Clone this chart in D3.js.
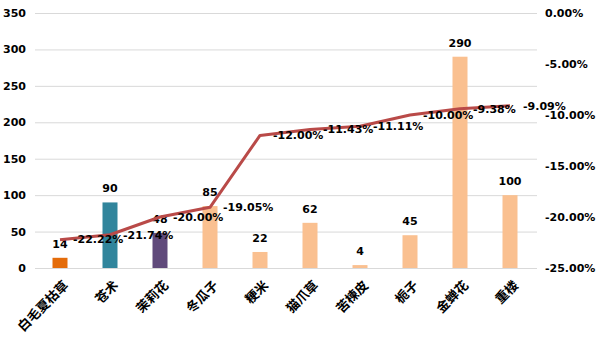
<!DOCTYPE html>
<html>
<head>
<meta charset="utf-8">
<script src="https://cdn.jsdelivr.net/npm/d3@7/dist/d3.min.js"></script>
<style>
  html, body { margin: 0; padding: 0; background: #fff; }
  svg { display: block; }
</style>
</head>
<body>
<svg id="chart" width="600" height="340"></svg>
<script>
// Herb names, counts (bars) and rates (line, %)
const categories = ["白毛夏枯草", "苍术", "茉莉花", "冬瓜子", "粳米", "猫爪草", "苦楝皮", "栀子", "金蝉花", "重楼"];
const counts = [14, 90, 48, 85, 22, 62, 4, 45, 290, 100];
const rates = [-22.22, -21.74, -20.00, -19.05, -12.00, -11.43, -11.11, -10.00, -9.38, -9.09];
const barColors = ["#e46c0a", "#31859c", "#604a7b", "#fac090", "#fac090", "#fac090", "#fac090", "#fac090", "#fac090", "#fac090"];
const leftTicks = [0, 50, 100, 150, 200, 250, 300, 350];
const rightTicks = [0, -5, -10, -15, -20, -25];

const svg = d3.select("#chart");
const plot = { left: 35, right: 535, top: 13, bottom: 268 };
const numFont = "'DejaVu Sans', sans-serif";
// percent text with a plain hyphen for negatives
const pct = v => (v < 0 ? "-" : "") + Math.abs(v).toFixed(2) + "%";

const x = d3.scaleBand().domain(categories).range([plot.left, plot.right]).paddingInner(0.7).paddingOuter(0.35);
const yL = d3.scaleLinear().domain([0, 350]).range([plot.bottom, plot.top]);
const yR = d3.scaleLinear().domain([-25, 0]).range([plot.bottom, plot.top]);
const cx = d => x(d) + x.bandwidth() / 2;

// gridlines
svg.append("g").selectAll("line").data(leftTicks).join("line")
  .attr("x1", plot.left).attr("x2", plot.right + 2)
  .attr("y1", d => yL(d) + 0.5).attr("y2", d => yL(d) + 0.5)
  .attr("stroke", "#d9d9d9").attr("stroke-width", 1);

// left axis
const axL = svg.append("g").attr("transform", `translate(${plot.left},0)`)
  .call(d3.axisLeft(yL).tickValues(leftTicks).tickSize(0).tickPadding(9));
axL.select(".domain").remove();
axL.selectAll("text").attr("font-family", numFont).attr("font-weight", "bold")
  .attr("font-size", 11).attr("fill", "#000");

// right axis
const axR = svg.append("g").attr("transform", `translate(${plot.right + 10},0)`)
  .call(d3.axisRight(yR).tickValues(rightTicks).tickSize(0).tickPadding(0).tickFormat(pct));
axR.select(".domain").remove();
axR.selectAll("text").attr("font-family", numFont).attr("font-weight", "bold")
  .attr("font-size", 11).attr("fill", "#000");

// bars
svg.append("g").selectAll("rect").data(categories).join("rect")
  .attr("x", d => x(d)).attr("width", x.bandwidth())
  .attr("y", (d, i) => yL(counts[i])).attr("height", (d, i) => yL(0) - yL(counts[i]))
  .attr("fill", (d, i) => barColors[i]);

// bar value labels
svg.append("g").selectAll("text").data(categories).join("text")
  .attr("x", d => cx(d)).attr("y", (d, i) => yL(counts[i]) - 10)
  .attr("text-anchor", "middle")
  .attr("font-family", numFont).attr("font-weight", "bold").attr("font-size", 11)
  .attr("fill", "#000")
  .text((d, i) => counts[i]);

// rate line
const line = d3.line().x(d => cx(d)).y((d, i) => yR(rates[i]));
svg.append("path").datum(categories)
  .attr("d", line).attr("fill", "none")
  .attr("stroke", "#b94a48").attr("stroke-width", 3).attr("stroke-linejoin", "round");

// rate labels
svg.append("g").selectAll("text").data(categories).join("text")
  .attr("x", d => cx(d) + 13).attr("y", (d, i) => yR(rates[i]))
  .attr("dy", "0.35em")
  .attr("font-family", numFont).attr("font-weight", "bold").attr("font-size", 11)
  .attr("fill", "#000")
  .text((d, i) => pct(rates[i]));

// category labels
svg.append("g").selectAll("text").data(categories).join("text")
  .attr("transform", d => `translate(${cx(d) + 6},${plot.bottom + 15}) rotate(-45)`)
  .attr("text-anchor", "end").attr("dy", "0.35em")
  .attr("font-family", "'Noto Sans CJK SC', sans-serif").attr("font-weight", "bold")
  .attr("font-size", 13).attr("fill", "#000")
  .text(d => d);
</script>
</body>
</html>
